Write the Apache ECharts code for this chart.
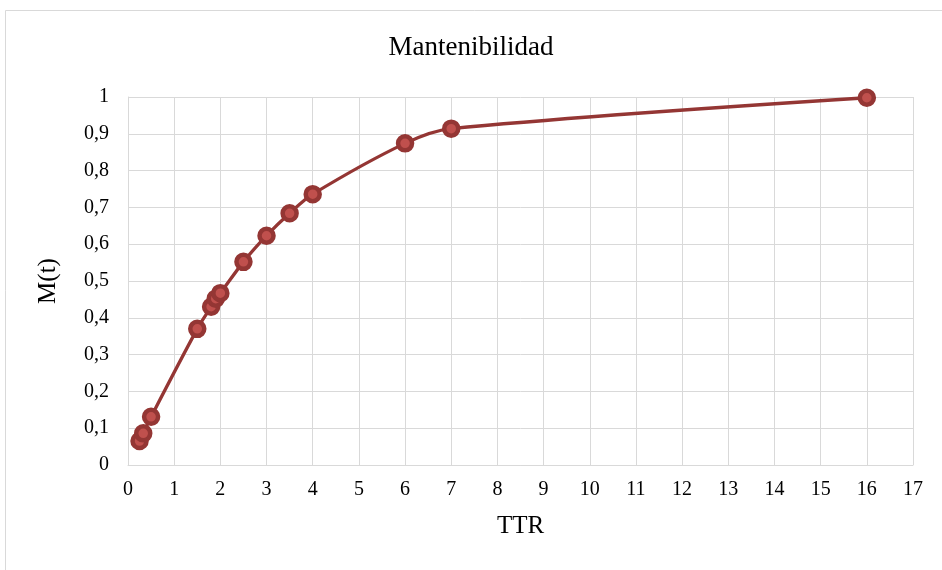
<!DOCTYPE html>
<html><head><meta charset="utf-8">
<script src="https://cdn.jsdelivr.net/npm/echarts@6/dist/echarts.min.js"></script>
<style>html,body{margin:0;padding:0;background:#fff}#c{width:942px;height:570px}</style>
</head><body><div id="c"></div>
<script>
var ttr = [0.25, 0.33, 0.5, 1.5, 1.8, 1.9, 2.0, 2.5, 3, 3.5, 4, 6, 7, 16];
var mt = [0.065, 0.086, 0.131, 0.370, 0.430, 0.452, 0.467, 0.552, 0.623, 0.684, 0.736, 0.874, 0.914, 0.998];
var chartTitle = 'Mantenibilidad';
var xName = 'TTR';
var yName = 'M(t)';
var font = '"Liberation Serif", "Times New Roman", serif';
var chart = echarts.init(document.getElementById('c'));
chart.setOption({
  animation: false,
  backgroundColor: '#fff',
  graphic: [{type:'rect', shape:{x:5.5,y:10.5,width:960,height:600}, style:{fill:'none', stroke:'#d9d9d9', lineWidth:1}, silent:true}],
  title: {text: chartTitle, left: 'center', top: 29, textStyle:{fontFamily:font, fontWeight:'normal', fontSize:27, color:'#000'}},
  grid: {left:128, right:29, top:97, bottom:105},
  xAxis: {type:'value', min:0, max:17, interval:1,
    name: xName, nameLocation:'middle', nameGap:49, nameTextStyle:{fontFamily:font, fontSize:25, color:'#000'},
    axisLine:{show:true, lineStyle:{color:'#d9d9d9', width:1}}, axisTick:{show:false},
    axisLabel:{fontFamily:font, fontSize:20, color:'#000', margin:15},
    splitLine:{show:true, lineStyle:{color:'#d9d9d9', width:1}}},
  yAxis: {type:'value', min:0, max:1, interval:0.1,
    name: yName, nameLocation:'middle', nameGap:67, nameTextStyle:{fontFamily:font, fontSize:25, color:'#000'},
    axisLine:{show:true, lineStyle:{color:'#d9d9d9', width:1}}, axisTick:{show:false},
    axisLabel:{fontFamily:font, fontSize:20, color:'#000', margin:19, formatter:function(v){return String(Math.round(v*10)/10).replace('.', ',');}},
    splitLine:{show:true, lineStyle:{color:'#d9d9d9', width:1}}},
  series: [{type:'line', data: ttr.map(function(x,i){return [x, mt[i]];}), smooth:0.3,
    lineStyle:{color:'#943634', width:3.3}, symbol:'circle', symbolSize:14,
    itemStyle:{color:'#C0504D', borderColor:'#943634', borderWidth:4.5}}]
});
</script></body></html>
